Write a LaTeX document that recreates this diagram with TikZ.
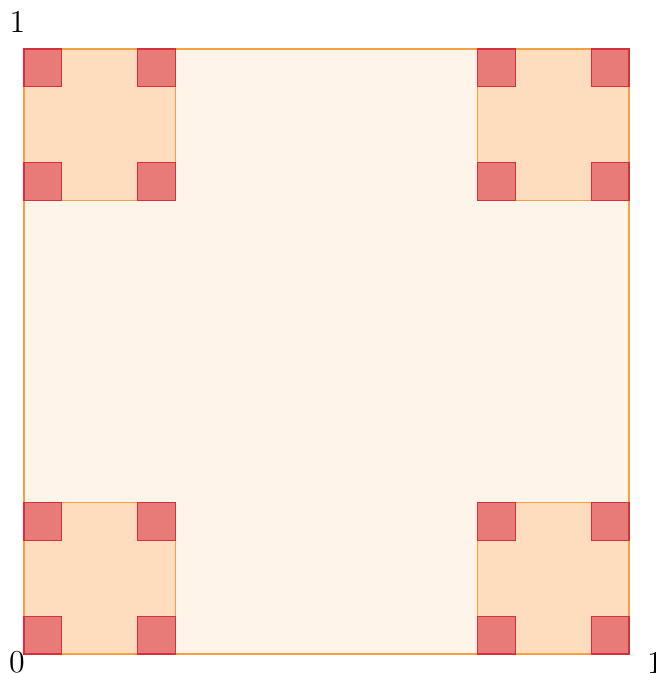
\documentclass[tikz,border=0pt]{standalone}
\usetikzlibrary{positioning}
\definecolor{dustpaper}{HTML}{FEF4E9}
\definecolor{dustpeach}{HTML}{FDDDBD}
\definecolor{dustrose}{HTML}{E87B78}
\definecolor{dustorange}{HTML}{F7A040}
\definecolor{dustred}{HTML}{D7303A}
\tikzset{
  lvlzero/.style={draw=dustorange,fill=dustpaper,line width=0.45pt},
  lvlone/.style={draw=dustorange,fill=dustpeach,line width=0.45pt},
  lvltwo/.style={draw=dustred,fill=dustrose,line width=0.45pt},
  lbl/.style={font=\large,inner sep=0pt}
}
\begin{document}
\begin{tikzpicture}[x=8cm,y=8cm]
    \useasboundingbox (-0.0397,-0.0314) rectangle (1.0430,1.0810);

    % stage 0
    \draw[lvlzero] (0,0) rectangle (1,1);
    % stages 1 and 2
    \foreach \i in {0,0.75}{
      \foreach \j in {0,0.75}{
        \draw[lvlone] (\i,\j) rectangle ++(0.25,0.25);
        \foreach \k in {0,0.1875}{
          \foreach \l in {0,0.1875}{
            \draw[lvltwo] (\i+\k,\j+\l) rectangle ++(0.0625,0.0625);
          }
        }
      }
    }

    \node[lbl] (origin) at (-0.0116,-0.0140) {0};
    \node[lbl] (xone) at (1.0430,-0.0140) {1};
    \node[lbl] (yone) at (-0.0107,1.0440) {1};
  \end{tikzpicture}
\end{document}
